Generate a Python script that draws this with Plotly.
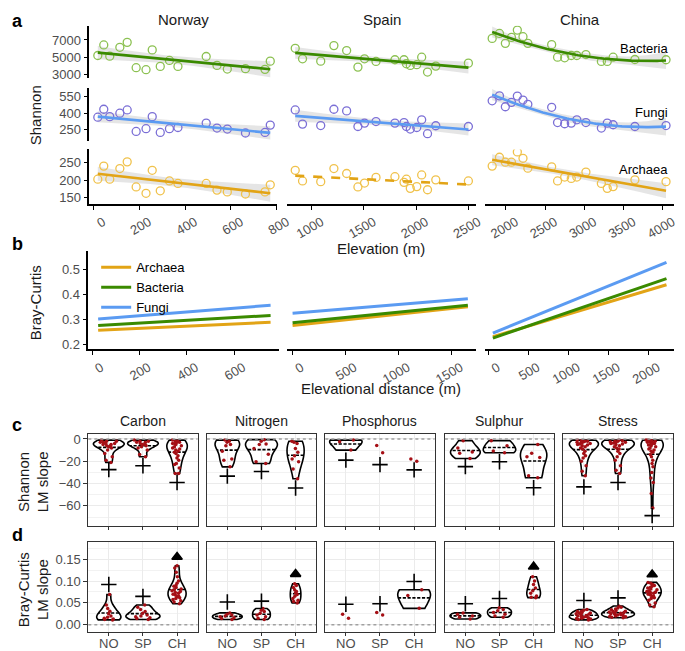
import numpy as np
import plotly.graph_objects as go

# ---------------- panel a: Shannon diversity vs elevation ----------------
nor_elev = [20, 46, 72, 116, 148, 187, 230, 257, 292, 332, 369, 492, 539, 584, 663, 748, 771]
nor_bac = [5206, 6429, 5126, 6154, 6726, 3800, 3571, 5857, 3948, 4634, 3948, 5091, 4063, 3640, 3686, 3606, 4554]
nor_fun = [364, 436, 369, 400, 430, 234, 259, 369, 225, 259, 270, 310, 265, 256, 220, 225, 292]
nor_arc = [203, 240, 203, 233, 252, 181, 163, 228, 170, 198, 191, 191, 172, 167, 161, 167, 187]

spa_elev = [843, 913, 1087, 1213, 1335, 1443, 1506, 1616, 1797, 1884, 1907, 1944, 2006, 2053, 2109, 2188, 2500]
spa_bac = [6040, 4828, 4554, 6349, 5777, 3868, 4828, 4520, 4714, 4714, 4257, 4063, 4143, 5011, 3297, 3983, 4326]
spa_fun = [430, 301, 288, 436, 421, 279, 310, 324, 310, 315, 279, 256, 270, 340, 214, 286, 279]
spa_arc = [228, 198, 196, 233, 219, 181, 192, 208, 210, 194, 203, 177, 182, 215, 173, 201, 198]

chi_elev = [1825, 1918, 1993, 2071, 2146, 2218, 2280, 2584, 2659, 2750, 2834, 2905, 3021, 3218, 3293, 3368, 3646, 4043]
chi_bac = [7183, 7754, 6611, 7297, 8143, 7377, 6611, 6463, 5011, 4943, 5206, 5206, 5320, 4520, 4520, 5011, 4748, 4714]
chi_fun = [513, 558, 459, 499, 556, 520, 481, 454, 315, 304, 310, 340, 315, 265, 310, 295, 279, 288]
chi_arc = [240, 265, 251, 251, 280, 262, 234, 238, 198, 209, 205, 209, 223, 191, 177, 182, 201, 196]

# ---------------- panel b: fitted Bray-Curtis vs elevational distance ----------------
b_dist = {"Norway": [25, 753], "Spain": [0, 1652], "China": [53, 2223]}
b_arc = {"Norway": [0.256, 0.288], "Spain": [0.275, 0.350], "China": [0.230, 0.438]}
b_bac = {"Norway": [0.275, 0.315], "Spain": [0.286, 0.356], "China": [0.225, 0.462]}
b_fun = {"Norway": [0.301, 0.356], "Spain": [0.324, 0.382], "China": [0.245, 0.527]}

# ---------------- panels c/d: LM slopes per trait group ----------------
groups = ["Carbon", "Nitrogen", "Phosphorus", "Sulphur", "Stress"]
regions = ["NO", "SP", "CH"]

c_vals = {
    "Carbon": [[-1, -2, -2, -3, -3, -4, -4, -5, -5, -6, -6, -7, -8, -10, -13, -16, -19, -21],
               [-1, -2, -2, -3, -3, -4, -5, -5, -6, -7, -8, -10, -14, -16],
               [-1, -2, -2, -3, -3, -4, -4, -5, -6, -7, -8, -9, -10, -11, -12, -13, -15, -17, -19, -22, -23, -26, -31, -31]],
    "Nitrogen": [[-1, -2, -3, -5, -6, -11, -18, -19, -25],
                 [-0.6, -2, -4.4, -5, -8.5, -13.7, -20.5, -22],
                 [-2, -3, -4, -8.5, -12, -15, -18, -20.5, -27, -35.7]],
    "Phosphorus": [[-1, -2.5, -10], [-5.8, -12.3], [-18, -20]],
    "Sulphur": [[-1.5, -8, -11.7, -12.9, -17.5], [-1.5, -6, -10.8, -12.3], [-5, -12.9, -16, -16.7, -33, -34.8]],
    "Stress": [[-1, -1.5, -2, -2, -2.5, -3, -3, -3.5, -4, -4.5, -5, -5.5, -6, -7, -8, -9, -11, -13, -15, -17, -20, -24, -29, -33],
               [-1, -1.5, -2, -2, -2.5, -3, -3, -3.5, -4, -4.5, -5, -6, -7, -8, -9, -11, -13, -16, -19, -24, -28, -31],
               [-1, -1, -1.5, -2, -2, -2.5, -3, -3, -3.5, -4, -4.5, -5, -5.5, -6, -7, -8, -9, -10, -11, -12, -14, -16, -19, -22, -25, -30, -35, -39, -49, -62]],
}
d_vals = {
    "Carbon": [[0.069, 0.045, 0.037, 0.031, 0.025, 0.02, 0.017, 0.015, 0.013, 0.012, 0.011],
               [0.045, 0.04, 0.035, 0.03, 0.026, 0.022, 0.02, 0.018, 0.016, 0.014, 0.012],
               [0.135, 0.13, 0.12, 0.11, 0.1, 0.095, 0.09, 0.088, 0.085, 0.082, 0.08, 0.078, 0.076,
                0.074, 0.072, 0.07, 0.068, 0.066, 0.064, 0.062, 0.06, 0.058, 0.055, 0.052, 0.048]],
    "Nitrogen": [[0.027, 0.024, 0.022, 0.02, 0.018, 0.016, 0.014, 0.012],
                 [0.037, 0.033, 0.03, 0.026, 0.022, 0.018, 0.015, 0.012],
                 [0.094, 0.09, 0.085, 0.08, 0.076, 0.073, 0.069, 0.065, 0.06, 0.056, 0.053, 0.05]],
    "Phosphorus": [[0.024, 0.015], [0.028, 0.022], [0.080, 0.067, 0.0375]],
    "Sulphur": [[0.027, 0.024, 0.02, 0.017, 0.013],
                [0.039, 0.035, 0.032, 0.028, 0.024, 0.02, 0.017],
                [0.11, 0.1, 0.092, 0.084, 0.078, 0.072, 0.066, 0.063, 0.062]],
    "Stress": [[0.035, 0.033, 0.031, 0.03, 0.028, 0.027, 0.026, 0.025, 0.024, 0.022, 0.021, 0.02,
                0.019, 0.018, 0.017, 0.016, 0.015, 0.014, 0.013, 0.012, 0.011],
               [0.043, 0.04, 0.038, 0.036, 0.034, 0.032, 0.031, 0.03, 0.029, 0.028, 0.027, 0.026,
                0.025, 0.024, 0.023, 0.022, 0.021, 0.02, 0.019, 0.018, 0.017, 0.016],
               [0.097, 0.095, 0.092, 0.09, 0.088, 0.086, 0.084, 0.082, 0.08, 0.078, 0.076, 0.075,
                0.074, 0.072, 0.07, 0.068, 0.066, 0.064, 0.062, 0.06, 0.056, 0.05, 0.045, 0.041]],
}
# violin widths (in category units)
c_width = {"Carbon": [0.9, 0.9, 0.6], "Nitrogen": [0.72, 0.93, 0.5], "Phosphorus": [0.95, 0, 0],
           "Sulphur": [0.87, 0.95, 0.77], "Stress": [0.85, 0.95, 0.65]}
d_width = {"Carbon": [0.71, 1.0, 0.53], "Nitrogen": [0.87, 0.52, 0.31], "Phosphorus": [0, 0, 0.96],
           "Sulphur": [0.9, 0.7, 0.4], "Stress": [0.85, 0.96, 0.53]}
# "+" / triangle markers
c_plus = {"Carbon": [-27.5, -24, -39], "Nitrogen": [-33.3, -29.2, -44], "Phosphorus": [-19, -23, -27.7],
          "Sulphur": [-24.8, -20.4, -43.8], "Stress": [-43, -39, -68.7]}
d_mark = {"Carbon": [0.092, 0.065, 0.155], "Nitrogen": [0.052, 0.054, 0.116], "Phosphorus": [0.047, 0.048, 0.099],
          "Sulphur": [0.048, 0.060, 0.133], "Stress": [0.0555, 0.0615, 0.115]}
d_mark_kind = {"Carbon": ["+", "+", "tri"], "Nitrogen": ["+", "+", "tri"], "Phosphorus": ["+", "+", "+"],
               "Sulphur": ["+", "+", "tri"], "Stress": ["+", "+", "tri"]}

# ---------------- styling ----------------
W, H = 685, 651
FONT = "Liberation Sans"
TICK_FONT = dict(family=FONT, size=13, color="#4D4D4D")
col = {"Archaea": "#E2A416", "Bacteria": "#3A8A00", "Fungi": "#5B9BF2"}
pcol = {"Archaea": "#F0C24C", "Bacteria": "#8CC152", "Fungi": "#7B6FD6"}


def xd(a, b):
    return [a / W, b / W]


def yd(top, bottom):
    return [1 - bottom / H, 1 - top / H]


fig = go.Figure()
lay = {}
n_ax = [0]


def new_axes(xdom, ydom, xprops, yprops):
    n_ax[0] += 1
    k = n_ax[0]
    sfx = "" if k == 1 else str(k)
    xa = dict(zeroline=False, showgrid=False)
    xa.update(xprops)
    xa.update(domain=xdom, anchor="y" + sfx)
    ya = dict(zeroline=False, showgrid=False)
    ya.update(yprops)
    ya.update(domain=ydom, anchor="x" + sfx)
    lay["xaxis" + sfx] = xa
    lay["yaxis" + sfx] = ya
    return "x" + sfx, "y" + sfx


def smooth(x, y, deg):
    x = np.asarray(x, float)
    y = np.asarray(y, float)
    xm = x.mean()
    X = np.vander(x - xm, deg + 1)
    beta, *_ = np.linalg.lstsq(X, y, rcond=None)
    resid = y - X @ beta
    s2 = resid @ resid / (len(x) - deg - 1)
    cov = s2 * np.linalg.inv(X.T @ X)
    xs = np.linspace(x.min(), x.max(), 80)
    Xs = np.vander(xs - xm, deg + 1)
    fit = Xs @ beta
    se = np.sqrt(np.einsum("ij,jk,ik->i", Xs, cov, Xs))
    return xs, fit, fit - 2.1 * se, fit + 2.1 * se


axis_line = dict(showline=True, linecolor="black", linewidth=1.5, ticks="outside",
                 ticklen=4, tickcolor="black", tickwidth=1.2, tickfont=TICK_FONT)

# ---- panel a ----
a_cols = [("Norway", nor_elev, nor_bac, nor_fun, nor_arc, [83, 275], [-17, 802], [0, 200, 400, 600, 800]),
          ("Spain", spa_elev, spa_bac, spa_fun, spa_arc, [285, 478], [766, 2575], [1000, 1500, 2000, 2500]),
          ("China", chi_elev, chi_bac, chi_fun, chi_arc, [487, 680], [1734, 4146], [2000, 2500, 3000, 3500, 4000])]
a_rows = [("Bacteria", [15, 68], [2577, 8634], [3000, 5000, 7000]),
          ("Fungi", [78, 131], [151, 628], [250, 400, 550]),
          ("Archaea", [140, 195], [133, 287], [150, 200, 250])]

for ci, (cname, elev, bac, fun, arc, xpx, xr, xt) in enumerate(a_cols):
    vals = {"Bacteria": bac, "Fungi": fun, "Archaea": arc}
    for ri, (taxon, ypx, yr, yt) in enumerate(a_rows):
        if ri == 2:
            xp = dict(axis_line, range=xr, tickvals=xt, tickangle=-30, ticklabelshift=10)
        else:
            xp = dict(range=xr, showticklabels=False, ticks="")
        if ci == 0:
            yp = dict(axis_line, range=yr, tickvals=yt)
        else:
            yp = dict(range=yr, showticklabels=False, ticks="")
        xa, ya = new_axes(xd(*xpx), yd(*ypx), xp, yp)
        dashed = (cname == "Spain" and taxon == "Archaea")
        deg = 2 if (cname == "China" and taxon != "Archaea") else 1
        xs, fit, lo, hi = smooth(elev, vals[taxon], deg)
        if not dashed:
            fig.add_trace(go.Scatter(x=np.concatenate([xs, xs[::-1]]), y=np.concatenate([lo, hi[::-1]]),
                                     fill="toself", fillcolor="rgba(150,150,150,0.25)", line=dict(width=0),
                                     mode="lines", xaxis=xa, yaxis=ya, showlegend=False, hoverinfo="skip"))
        fig.add_trace(go.Scatter(x=elev, y=vals[taxon], mode="markers", xaxis=xa, yaxis=ya, showlegend=False,
                                 marker=dict(symbol="circle-open", size=8, color=pcol[taxon], line=dict(width=1.3))))
        fig.add_trace(go.Scatter(x=xs, y=fit, mode="lines", xaxis=xa, yaxis=ya, showlegend=False,
                                 line=dict(color=col[taxon], width=2.6, dash="dash" if dashed else "solid")))

# ---- panel b ----
b_cols = [("Norway", [82, 277], [-16.5, 790], [0, 200, 400, 600]),
          ("Spain", [285, 478], [-51, 1731], [0, 500, 1000, 1500]),
          ("China", [487, 680], [-45, 2318], [0, 500, 1000, 1500, 2000])]
for ci, (cname, xpx, xr, xt) in enumerate(b_cols):
    xp = dict(axis_line, range=xr, tickvals=xt, tickangle=-30, ticklabelshift=9)
    if ci == 0:
        yp = dict(axis_line, range=[0.180, 0.571], tickvals=[0.2, 0.3, 0.4, 0.5], tickformat=".1f")
    else:
        yp = dict(range=[0.180, 0.571], showticklabels=False, ticks="")
    xa, ya = new_axes(xd(*xpx), yd(243, 342), xp, yp)
    for taxon, src in [("Archaea", b_arc), ("Bacteria", b_bac), ("Fungi", b_fun)]:
        fig.add_trace(go.Scatter(x=b_dist[cname], y=src[cname], mode="lines", name=taxon,
                                 line=dict(color=col[taxon], width=3), xaxis=xa, yaxis=ya,
                                 showlegend=(ci == 0)))

# ---- panels c and d ----
facet_left = [82, 203, 324, 446, 567]
facet_w = 111.5
grid = dict(showgrid=True, gridcolor="#EBEBEB", gridwidth=1)
box_line = dict(showline=True, mirror=True, linecolor="#333333", linewidth=1)

for panel, ypx, yr, yt, ymin, vals_d, widths, fmt in [
        ("c", [428, 521], [-78.4, 4.1], [0, -20, -40, -60], [-10, -30, -50, -70], c_vals, c_width, None),
        ("d", [537, 628], [-0.0173, 0.189], [0, 0.05, 0.10, 0.15], [0.025, 0.075, 0.125, 0.175],
         d_vals, d_width, ".2f")]:
    for gi, g in enumerate(groups):
        xp = dict(box_line, **grid, range=[0.4, 3.6], tickvals=[1, 2, 3], ticktext=regions,
                  ticks="outside", ticklen=3, tickcolor="#333333",
                  tickfont=dict(family=FONT, size=13, color="#4D4D4D"),
                  ticklabelstandoff=-4,
                  showticklabels=(panel == "d"))
        yp = dict(box_line, **grid, range=yr, tickvals=yt,
                  minor=dict(tickvals=ymin, showgrid=True, gridcolor="#F2F2F2", gridwidth=0.6),
                  ticks="outside" if gi == 0 else "", ticklen=4, tickcolor="#333333",
                  showticklabels=(gi == 0), tickfont=TICK_FONT)
        if fmt:
            yp["tickformat"] = fmt
        xa, ya = new_axes(xd(facet_left[gi], facet_left[gi] + facet_w), yd(*ypx), xp, yp)
        fig.add_shape(type="line", xref=xa + " domain", yref=ya, x0=0, x1=1, y0=0, y1=0,
                      line=dict(color="#A0A0A0", width=1.5, dash="dot"))
        for ri in range(3):
            w = widths[g][ri]
            fig.add_trace(go.Violin(x0=ri + 1, y=vals_d[g][ri], width=w if w > 0 else 0.5,
                                    xaxis=xa, yaxis=ya, points="all", pointpos=0, jitter=0.6,
                                    spanmode="hard", showlegend=False,
                                    marker=dict(color="#A50F15", size=3.5),
                                    line=dict(color="black", width=1.6 if w > 0 else 0),
                                    fillcolor="rgba(0,0,0,0)",
                                    meanline=dict(visible=w > 0, color="black", width=1.6)))
        if panel == "c":
            fig.add_trace(go.Scatter(x=[1, 2, 3], y=c_plus[g], mode="markers", xaxis=xa, yaxis=ya,
                                     showlegend=False,
                                     marker=dict(symbol="cross-thin", size=11, line=dict(width=1.6, color="black"))))
        else:
            for ri in range(3):
                tri = d_mark_kind[g][ri] == "tri"
                fig.add_trace(go.Scatter(x=[ri + 1], y=[d_mark[g][ri]], mode="markers", xaxis=xa, yaxis=ya,
                                         showlegend=False,
                                         marker=dict(symbol="triangle-up" if tri else "cross-thin",
                                                     size=9 if tri else 11, color="black",
                                                     line=dict(width=1.6, color="black"))))

# ---- text ----
ann = []


def txt(text, x, y, size=14, **kw):
    a = dict(text=text, x=x / W, y=1 - y / H, xref="paper", yref="paper", showarrow=False,
             xanchor="center", yanchor="middle",
             font=dict(family=FONT, size=size, color=kw.pop("color", "#1A1A1A")))
    a.update(kw)
    ann.append(a)


for lbl, yy in [("a", 10), ("b", 236), ("c", 418), ("d", 530)]:
    txt("<b>%s</b>" % lbl, 2, yy, size=18, xanchor="left", color="black")
for name, cx in [("Norway", 179), ("Spain", 381.5), ("China", 583.5)]:
    txt(name, cx, 9, size=15)
for name, yy in [("Bacteria", 38), ("Fungi", 103), ("Archaea", 160)]:
    txt(name, 676, yy, size=13, xanchor="right", color="black")
txt("Shannon", 28, 105, size=15, textangle=-90)
txt("Elevation (m)", 381, 240, size=15)
txt("Bray-Curtis", 28, 295, size=15, textangle=-90)
txt("Elevational distance (m)", 381, 382, size=15)
for gi, g in enumerate(groups):
    txt(g, facet_left[gi] + facet_w / 2, 414, size=14)
txt("Shannon<br>LM slope", 26, 476, size=15, textangle=-90)
txt("Bray-Curtis<br>LM slope", 26, 585, size=15, textangle=-90)

fig.update_layout(**lay)
fig.update_layout(
    width=W, height=H, margin=dict(l=0, r=0, t=0, b=0),
    plot_bgcolor="white", paper_bgcolor="white",
    font=dict(family=FONT, size=13, color="#1A1A1A"),
    annotations=ann,
    violinmode="overlay",
    legend=dict(x=90 / W, y=1 - 244 / H, xanchor="left", yanchor="top", bgcolor="rgba(0,0,0,0)",
                font=dict(family=FONT, size=13, color="black"), tracegroupgap=0, itemwidth=30),
)

fig.write_html("out.html")
